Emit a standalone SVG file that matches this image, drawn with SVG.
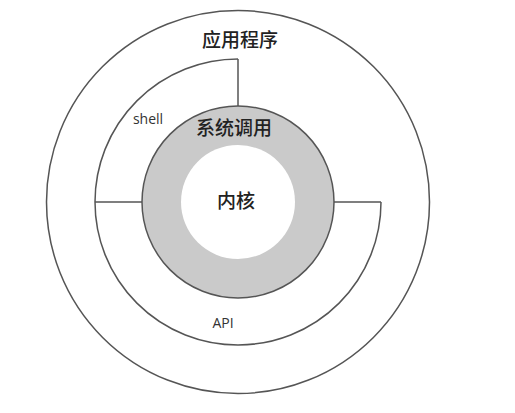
<svg xmlns="http://www.w3.org/2000/svg" width="515" height="413" viewBox="0 0 515 413">
<style>
.ln{fill:none;stroke:#555;stroke-width:1.5}
.cjk{font-family:"Noto Sans CJK SC","Noto Sans",sans-serif;font-size:19px;font-weight:500;fill:#222;text-anchor:middle}
.lat{font-family:"Open Sans","Noto Sans",sans-serif;font-size:14px;fill:#333;text-anchor:middle}
</style>
<rect width="515" height="413" fill="#fff"/>
<g id="app">
<circle class="ln" cx="238" cy="202" r="191.5"/>
<text class="cjk" x="240" y="47">应用程序</text>
</g>
<g id="shell-api">
<path class="ln" d="M238,59 A143,143 0 1 0 381,202"/>
<text class="lat" x="148" y="124">shell</text>
<text class="lat" x="223" y="328">API</text>
</g>
<g id="connectors">
<line class="ln" x1="238" y1="59" x2="238" y2="106"/>
<line class="ln" x1="95" y1="202" x2="142" y2="202"/>
<line class="ln" x1="334" y1="202" x2="381" y2="202"/>
</g>
<g id="syscall">
<circle cx="238" cy="202" r="96" fill="#cacaca" stroke="#555" stroke-width="1.5"/>
<text class="cjk" x="234" y="135">系统调用</text>
</g>
<g id="kernel">
<circle cx="238" cy="202" r="57" fill="#fff"/>
<text class="cjk" x="236" y="208">内核</text>
</g>
</svg>
